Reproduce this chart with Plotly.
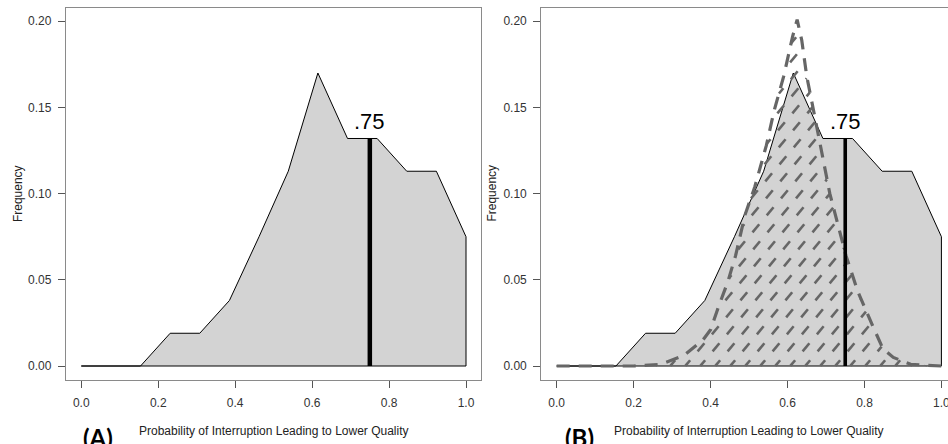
import numpy as np
import plotly.graph_objects as go

# ---------------- data ----------------
prob_x = [0.000, 0.077, 0.154, 0.231, 0.308, 0.385, 0.462, 0.538, 0.615, 0.692, 0.769, 0.846, 0.923, 1.000]
freq_y = [0.000, 0.000, 0.000, 0.019, 0.019, 0.038, 0.075, 0.113, 0.170, 0.132, 0.132, 0.113, 0.113, 0.075]

dens_x = [0.00, 0.20, 0.27, 0.33, 0.38, 0.40, 0.42, 0.445, 0.465, 0.49, 0.515, 0.545, 0.565, 0.59,
          0.613, 0.625, 0.637, 0.65, 0.667, 0.684, 0.71, 0.752, 0.783, 0.822, 0.848, 0.875, 0.92, 1.00]
dens_y = [0.000, 0.000, 0.001, 0.006, 0.015, 0.021, 0.034, 0.049, 0.064, 0.088, 0.104, 0.128, 0.148, 0.168,
          0.191, 0.201, 0.189, 0.168, 0.149, 0.130, 0.100, 0.064, 0.043, 0.023, 0.010, 0.005, 0.001, 0.000]

marker_x = 0.75
marker_label = ".75"
x_ticks = [0.0, 0.2, 0.4, 0.6, 0.8, 1.0]
x_ticklabels = ["0.0", "0.2", "0.4", "0.6", "0.8", "1.0"]
y_ticks = [0.00, 0.05, 0.10, 0.15, 0.20]
y_ticklabels = ["0.00", "0.05", "0.10", "0.15", "0.20"]
panel_labels = ["(A)", "(B)"]
x_title = "Probability of Interruption Leading to Lower Quality"
y_title = "Frequency"

# ---------------- layout geometry ----------------
W, H = 948, 444
A_px = (65.9, 481.4)
B_px = (541.3, 948.0)
Y_px = (7.5, 379.8)
xr_A = [-0.04, 1.04]
px_per_x = (A_px[1] - A_px[0]) / (xr_A[1] - xr_A[0])
xr_B = [-0.04, -0.04 + (B_px[1] - B_px[0]) / px_per_x]
yr = [-0.008, 0.208]
px_per_y = (Y_px[1] - Y_px[0]) / (yr[1] - yr[0])

dom_y = [1 - Y_px[1] / H, 1 - Y_px[0] / H]
dom_xA = [A_px[0] / W, A_px[1] / W]
dom_xB = [B_px[0] / W, B_px[1] / W]

FONT = "Liberation Sans, Arial, sans-serif"
FILL = "#D3D3D3"
DGREY = "#666666"

poly_x = prob_x + [prob_x[-1], prob_x[0]]
poly_y = freq_y + [0.0, 0.0]
marker_top = float(np.interp(marker_x, prob_x, freq_y))

# hatch (dashed diagonal lines clipped to the density area)
def hatch_dashes(cx, cy, spacing_px=15.0, row_px=17.0, dash_px=10.5, angle_deg=50.0,
                 phase_px=-3.0, anchor_x=0.2953):
    sx = 1.0 / px_per_x
    sy = 1.0 / px_per_y
    step = spacing_px * sx
    a = np.radians(angle_deg)
    ca, sa = np.cos(a), np.sin(a)
    period_px = row_px / sa
    hx, hy = [], []
    for k in range(-20, 22):
        x0 = anchor_x + k * step
        for j in range(0, 40):
            t0 = phase_px + j * period_px
            t = np.linspace(t0, t0 + dash_px, 18)
            X = x0 + t * ca * sx
            Y = t * sa * sy
            f = np.interp(X, cx, cy)
            inside = (Y >= 0) & (Y <= f) & (X <= cx[-1]) & (X >= cx[0])
            run_x, run_y = [], []
            for xi, yi, ok in zip(X, Y, inside):
                if ok:
                    run_x.append(float(xi)); run_y.append(float(yi))
                else:
                    if len(run_x) > 1:
                        hx += run_x + [None]; hy += run_y + [None]
                    run_x, run_y = [], []
            if len(run_x) > 1:
                hx += run_x + [None]; hy += run_y + [None]
    return hx, hy

hx, hy = hatch_dashes(dens_x, dens_y)

fig = go.Figure()

for xa, ya in (("x", "y"), ("x2", "y2")):
    fig.add_trace(go.Scatter(x=poly_x, y=poly_y, mode="lines", fill="toself", fillcolor=FILL,
                             line=dict(color="black", width=1), xaxis=xa, yaxis=ya,
                             showlegend=False, hoverinfo="skip"))

# density curve with hatching in panel B
fig.add_trace(go.Scatter(x=hx, y=hy, mode="lines", line=dict(color=DGREY, width=2.6),
                         connectgaps=False, xaxis="x2", yaxis="y2", showlegend=False, hoverinfo="skip"))
fig.add_trace(go.Scatter(x=dens_x, y=dens_y, mode="lines", line=dict(color=DGREY, width=3.2, dash="13px,9px"),
                         xaxis="x2", yaxis="y2", showlegend=False, hoverinfo="skip"))

# vertical marker lines
for xa, ya, w in (("x", "y", 4.5), ("x2", "y2", 3.6)):
    fig.add_trace(go.Scatter(x=[marker_x, marker_x], y=[0, marker_top], mode="lines",
                             line=dict(color="black", width=w), xaxis=xa, yaxis=ya,
                             showlegend=False, hoverinfo="skip"))

axis_common = dict(showgrid=False, zeroline=False, showline=True, linecolor="#8a8a8a", linewidth=1.2,
                   ticks="outside", ticklen=7, tickwidth=1, tickcolor="#555555", automargin=False,
                   ticklabeloverflow="allow",
                   tickfont=dict(family=FONT, size=12, color="#333333"), fixedrange=True)

fig.update_layout(
    width=W, height=H, margin=dict(l=0, r=0, t=0, b=0, autoexpand=False),
    paper_bgcolor="white", plot_bgcolor="white", showlegend=False,
    xaxis=dict(domain=dom_xA, range=xr_A, tickvals=x_ticks, ticktext=x_ticklabels, mirror=True,
               anchor="y", ticklabelstandoff=5, **axis_common),
    yaxis=dict(domain=dom_y, range=yr, tickvals=y_ticks, ticktext=y_ticklabels, mirror=True,
               anchor="x", ticklabelstandoff=4, **axis_common),
    xaxis2=dict(domain=dom_xB, range=xr_B, tickvals=x_ticks, ticktext=x_ticklabels, mirror=True,
                anchor="y2", ticklabelstandoff=5, **axis_common),
    yaxis2=dict(domain=dom_y, range=yr, tickvals=y_ticks, ticktext=y_ticklabels, mirror=False,
                anchor="x2", ticklabelstandoff=4, **axis_common),
)

ann = []
for xr_, yr_ in (("x", "y"), ("x2", "y2")):
    ann.append(dict(x=marker_x, y=marker_top, xref=xr_, yref=yr_, text=marker_label, showarrow=False,
                    xanchor="center", yanchor="bottom", yshift=2,
                    font=dict(family=FONT, size=22, color="black")))
    ann.append(dict(x=0.5, y=1 - 430.5 / H, xref=xr_, yref="paper", text=x_title, showarrow=False,
                    xanchor="center", yanchor="middle", font=dict(family=FONT, size=12, color="#222222")))

for px_x, lab in ((17.5, y_title), (492.0, y_title)):
    ann.append(dict(x=px_x / W, y=1 - 193.6 / H, xref="paper", yref="paper", text=lab, showarrow=False,
                    textangle=-90, xanchor="center", yanchor="middle",
                    font=dict(family=FONT, size=12, color="#222222")))

for px_x, lab in ((98.0, panel_labels[0]), (579.0, panel_labels[1])):
    ann.append(dict(x=px_x / W, y=1 - 437.5 / H, xref="paper", yref="paper", text="<b>" + lab + "</b>",
                    showarrow=False, xanchor="center", yanchor="middle",
                    font=dict(family="Lato, Open Sans, sans-serif", size=24, color="black")))

fig.update_layout(annotations=ann)

fig.write_html("out.html", config={"displayModeBar": False},
               post_script="document.body.style.margin='0';document.body.style.overflow='hidden';")
